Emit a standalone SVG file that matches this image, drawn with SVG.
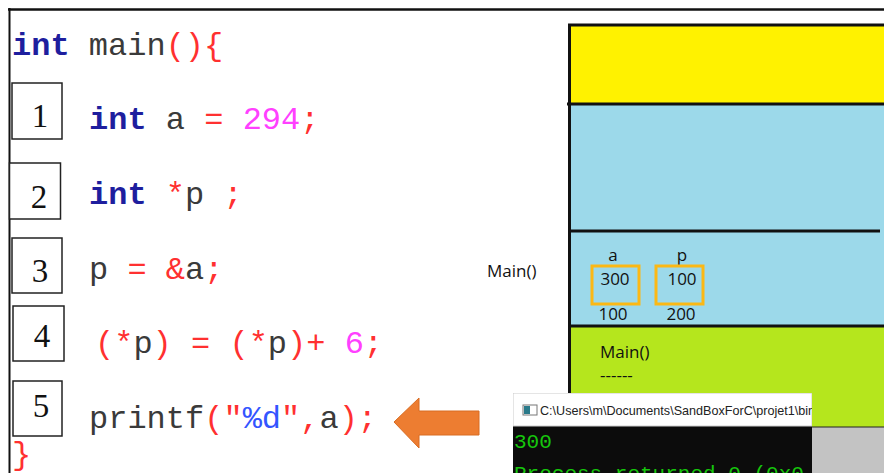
<svg xmlns="http://www.w3.org/2000/svg" width="884" height="473" viewBox="0 0 884 473">
<style>
.code{font-family:"Liberation Mono","Courier New",monospace;font-size:32px;fill:#3a3a3a;white-space:pre}
.kw{fill:#1e1e9e;font-weight:bold}
.r{fill:#ff3030}
.m{fill:#ff40ff}
.b{fill:#3355ff}
.num{font-family:"Liberation Serif","Times New Roman",serif;font-size:33px;fill:#111;text-anchor:middle}
.box{fill:#fff;stroke:#222;stroke-width:1.5}
.lbl{font-family:"Open Sans","Noto Sans",sans-serif;font-size:17px;fill:#111}
.mem{fill:none;stroke:#fbb814;stroke-width:3}
.sep{stroke:#111;stroke-width:3}
</style>
<defs>
<clipPath id="consoleClip"><rect x="513" y="393" width="299" height="80"/></clipPath>
</defs>
<rect x="0" y="0" width="884" height="473" fill="#fff"/>
<line x1="8" y1="9.5" x2="884" y2="9.5" stroke="#111" stroke-width="2.5"/>
<line x1="9.5" y1="8" x2="9.5" y2="473" stroke="#111" stroke-width="2"/>

<g id="code">
<text class="code" x="12" y="55"><tspan class="kw">int</tspan> main<tspan class="r">(){</tspan></text>
<text class="code" x="89" y="129"><tspan class="kw">int</tspan> a <tspan class="r">=</tspan> <tspan class="m">294</tspan><tspan class="r">;</tspan></text>
<text class="code" x="89" y="204"><tspan class="kw">int</tspan> <tspan class="r">*</tspan>p <tspan class="r">;</tspan></text>
<text class="code" x="89" y="279">p <tspan class="r">=</tspan> <tspan class="r">&amp;</tspan>a<tspan class="r">;</tspan></text>
<text class="code" x="95" y="353"><tspan class="r">(*</tspan>p<tspan class="r">)</tspan> <tspan class="r">=</tspan> <tspan class="r">(*</tspan>p<tspan class="r">)+</tspan> <tspan class="m">6</tspan><tspan class="r">;</tspan></text>
<text class="code" x="89" y="428">printf<tspan class="r">("</tspan><tspan class="b">%d</tspan><tspan class="r">",</tspan>a<tspan class="r">);</tspan></text>
<text class="code" x="12" y="464"><tspan class="r">}</tspan></text>
</g>

<g id="step1"><rect class="box" x="12" y="83" width="50" height="56"/><text class="num" x="40" y="127">1</text></g>
<g id="step2"><rect class="box" x="9.5" y="163" width="51" height="56"/><text class="num" x="39" y="208">2</text></g>
<g id="step3"><rect class="box" x="12" y="238" width="50" height="55"/><text class="num" x="40" y="282">3</text></g>
<g id="step4"><rect class="box" x="13" y="306" width="51" height="55"/><text class="num" x="42" y="347">4</text></g>
<g id="step5"><rect class="box" x="13" y="381" width="49" height="55"/><text class="num" x="41" y="417">5</text></g>

<g id="connectors">
<path d="M394,422 L419,398 L419,411 L479,411 L479,435 L419,435 L419,448 Z" fill="#ed7d31" stroke="#d86c22" stroke-width="1"/>
</g>

<g id="stack">
<rect x="569" y="25" width="315" height="79" fill="#fff200"/>
<rect x="569" y="104" width="315" height="223" fill="#9cd9ea"/>
<rect x="569" y="327" width="315" height="100" fill="#b5e61d"/>
<rect x="812" y="427" width="72" height="46" fill="#c3c3c3"/>
<line x1="568" y1="25" x2="884" y2="25" class="sep"/>
<line x1="567" y1="104" x2="884" y2="104" class="sep"/>
<line x1="569" y1="231" x2="880" y2="231" class="sep"/>
<line x1="569" y1="326" x2="884" y2="326" class="sep"/>
<line x1="569.5" y1="24" x2="569.5" y2="430" class="sep"/>
<line x1="569" y1="427" x2="884" y2="427" stroke="#222" stroke-width="1"/>
</g>

<g id="main-label"><text class="lbl" x="487" y="277">Main()</text></g>

<g id="frame-main">
<text class="lbl" x="613" y="261" text-anchor="middle">a</text>
<text class="lbl" x="682" y="261" text-anchor="middle">p</text>
<g id="var-a"><rect class="mem" x="592" y="266" width="47" height="38"/><text class="lbl" x="615" y="285" text-anchor="middle">300</text><text class="lbl" x="613" y="320" text-anchor="middle">100</text></g>
<g id="var-p"><rect class="mem" x="656" y="266" width="47" height="38"/><text class="lbl" x="682" y="285" text-anchor="middle">100</text><text class="lbl" x="681" y="320" text-anchor="middle">200</text></g>
</g>

<g id="frame-main-green">
<text class="lbl" x="600" y="358">Main()</text>
<text class="lbl" x="600" y="381">------</text>
</g>

<g id="console" clip-path="url(#consoleClip)">
<rect x="513" y="393" width="299" height="80" fill="#0c0c0c"/>
<rect x="513" y="393" width="299" height="33" fill="#fff" stroke="#ccc" stroke-width="1"/>
<rect x="523" y="405" width="14" height="10" fill="#fff" stroke="#777" stroke-width="1"/>
<rect x="524" y="406" width="6" height="8" fill="#2a7a8a"/>
<text x="540" y="415" font-family="'Liberation Sans',Arial,sans-serif" font-size="12.6" fill="#222">C:\Users\m\Documents\SandBoxForC\projet1\bin\</text>
<text x="514" y="448" font-family="'Liberation Mono',monospace" font-size="21" fill="#16c60c">300</text>
<text x="514" y="480" font-family="'Liberation Mono',monospace" font-size="21" fill="#16c60c">Process returned 0 (0x0</text>
</g>
</svg>
